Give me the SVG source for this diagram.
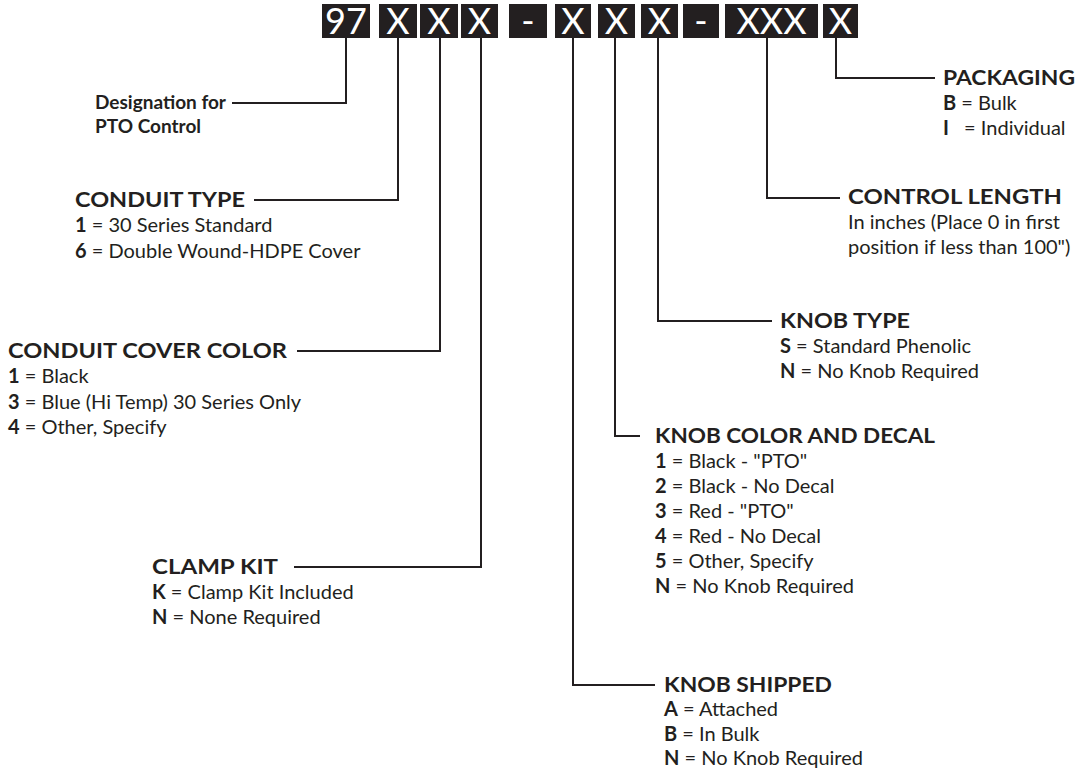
<svg xmlns="http://www.w3.org/2000/svg" width="1078" height="772" viewBox="0 0 1078 772">
<style>
.box{fill:#231f20}
.bt{fill:#fff;font-family:Lato,"Liberation Sans",sans-serif;font-size:36px;text-anchor:middle}
text.l{fill:#231f20;font-family:Lato,"Liberation Sans",sans-serif;font-size:20px}
text.h{fill:#231f20;font-family:Lato,"Liberation Sans",sans-serif;font-size:20px;font-weight:bold}
text.d{fill:#231f20;font-family:Lato,"Liberation Sans",sans-serif;font-size:19px;font-weight:bold}
.b{font-weight:bold}
.conn{stroke:#231f20;stroke-width:2;fill:none}
</style>
<rect width="1078" height="772" fill="#fff"/>
<g id="code">
<g id="c97"><rect class="box" x="322" y="4" width="48" height="34"/><text class="bt" x="346" y="34">97</text></g>
<g id="c1"><rect class="box" x="379" y="4" width="38" height="34"/><text class="bt" x="398" y="34">X</text></g>
<g id="c2"><rect class="box" x="420" y="4" width="38" height="34"/><text class="bt" x="439" y="34">X</text></g>
<g id="c3"><rect class="box" x="461" y="4" width="37" height="34"/><text class="bt" x="479.5" y="34">X</text></g>
<g id="d1"><rect class="box" x="509" y="4" width="38" height="34"/><text class="bt" x="528" y="34">-</text></g>
<g id="c4"><rect class="box" x="555" y="4" width="36" height="34"/><text class="bt" x="573" y="34">X</text></g>
<g id="c5"><rect class="box" x="598" y="4" width="37" height="34"/><text class="bt" x="616.5" y="34">X</text></g>
<g id="c6"><rect class="box" x="641" y="4" width="37" height="34"/><text class="bt" x="659.5" y="34">X</text></g>
<g id="d2"><rect class="box" x="683" y="4" width="36" height="34"/><text class="bt" x="701" y="34">-</text></g>
<g id="c7"><rect class="box" x="725" y="4" width="93" height="34"/><text class="bt" x="771.5" y="34">XXX</text></g>
<g id="c8"><rect class="box" x="823" y="4" width="35" height="34"/><text class="bt" x="840.5" y="34">X</text></g>
</g>
<g id="connectors">
<polyline class="conn" points="346,38 346,103 232,103"/>
<polyline class="conn" points="398,38 398,200 254,200"/>
<polyline class="conn" points="440,38 440,351 297,351"/>
<polyline class="conn" points="481,38 481,567 294,567"/>
<polyline class="conn" points="573,38 573,685 655,685"/>
<polyline class="conn" points="615,38 615,436 640,436"/>
<polyline class="conn" points="658,38 658,321 772,321"/>
<polyline class="conn" points="767,38 767,198 840,198"/>
<polyline class="conn" points="836,38 836,78 935,78"/>
</g>
<g id="designation">
<text class="d" x="95" y="109">Designation for</text>
<text class="d" x="95" y="133">PTO Control</text>
</g>
<g id="conduit-type">
<text class="h" x="75" y="207" textLength="170" lengthAdjust="spacingAndGlyphs">CONDUIT TYPE</text>
<text class="l" x="75" y="232"><tspan class="b">1</tspan> = 30 Series Standard</text>
<text class="l" x="75" y="258"><tspan class="b">6</tspan> = Double Wound-HDPE Cover</text>
</g>
<g id="conduit-cover-color">
<text class="h" x="8" y="358" textLength="279" lengthAdjust="spacingAndGlyphs">CONDUIT COVER COLOR</text>
<text class="l" x="8" y="383"><tspan class="b">1</tspan> = Black</text>
<text class="l" x="8" y="409"><tspan class="b">3</tspan> = Blue (Hi Temp) 30 Series Only</text>
<text class="l" x="8" y="434"><tspan class="b">4</tspan> = Other, Specify</text>
</g>
<g id="clamp-kit">
<text class="h" x="152" y="574" textLength="126" lengthAdjust="spacingAndGlyphs">CLAMP KIT</text>
<text class="l" x="152" y="599"><tspan class="b">K</tspan> = Clamp Kit Included</text>
<text class="l" x="152" y="624"><tspan class="b">N</tspan> = None Required</text>
</g>
<g id="knob-shipped">
<text class="h" x="664" y="692" textLength="168" lengthAdjust="spacingAndGlyphs">KNOB SHIPPED</text>
<text class="l" x="664" y="716"><tspan class="b">A</tspan> = Attached</text>
<text class="l" x="664" y="741"><tspan class="b">B</tspan> = In Bulk</text>
<text class="l" x="664" y="765"><tspan class="b">N</tspan> = No Knob Required</text>
</g>
<g id="knob-color">
<text class="h" x="655" y="443" textLength="280" lengthAdjust="spacingAndGlyphs">KNOB COLOR AND DECAL</text>
<text class="l" x="655" y="468"><tspan class="b">1</tspan> = Black - "PTO"</text>
<text class="l" x="655" y="493"><tspan class="b">2</tspan> = Black - No Decal</text>
<text class="l" x="655" y="518"><tspan class="b">3</tspan> = Red - "PTO"</text>
<text class="l" x="655" y="543"><tspan class="b">4</tspan> = Red - No Decal</text>
<text class="l" x="655" y="568"><tspan class="b">5</tspan> = Other, Specify</text>
<text class="l" x="655" y="593"><tspan class="b">N</tspan> = No Knob Required</text>
</g>
<g id="knob-type">
<text class="h" x="780" y="328" textLength="130" lengthAdjust="spacingAndGlyphs">KNOB TYPE</text>
<text class="l" x="780" y="353"><tspan class="b">S</tspan> = Standard Phenolic</text>
<text class="l" x="780" y="378"><tspan class="b">N</tspan> = No Knob Required</text>
</g>
<g id="control-length">
<text class="h" x="848" y="204" textLength="214" lengthAdjust="spacingAndGlyphs">CONTROL LENGTH</text>
<text class="l" x="848" y="229">In inches (Place 0 in first</text>
<text class="l" x="848" y="254">position if less than 100")</text>
</g>
<g id="packaging">
<text class="h" x="943" y="85" textLength="132" lengthAdjust="spacingAndGlyphs">PACKAGING</text>
<text class="l" x="943" y="110"><tspan class="b">B</tspan> = Bulk</text>
<text class="l" x="943" y="135"><tspan class="b">I</tspan><tspan x="959"> = Individual</tspan></text>
</g>
</svg>
